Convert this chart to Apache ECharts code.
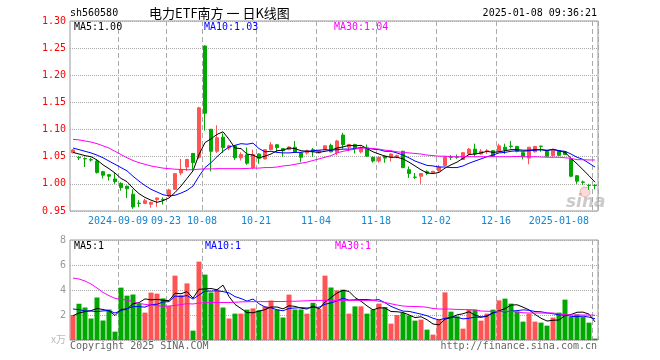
<!DOCTYPE html>
<html><head><meta charset="utf-8">
<script src="https://cdn.jsdelivr.net/npm/echarts@6/dist/echarts.min.js"></script>
<style>html,body{margin:0;padding:0;background:#fff;}#c{width:660px;height:360px;}</style>
</head><body><div id="c"></div>
<script>
const dates = [
'2024-08-28','2024-08-29','2024-08-30',
'2024-09-02','2024-09-03','2024-09-04','2024-09-05','2024-09-06',
'2024-09-09','2024-09-10','2024-09-11','2024-09-12','2024-09-13',
'2024-09-18','2024-09-19','2024-09-20',
'2024-09-23','2024-09-24','2024-09-25','2024-09-26','2024-09-27','2024-09-30',
'2024-10-08','2024-10-09','2024-10-10','2024-10-11',
'2024-10-14','2024-10-15','2024-10-16','2024-10-17','2024-10-18',
'2024-10-21','2024-10-22','2024-10-23','2024-10-24','2024-10-25',
'2024-10-28','2024-10-29','2024-10-30','2024-10-31','2024-11-01',
'2024-11-04','2024-11-05','2024-11-06','2024-11-07','2024-11-08',
'2024-11-11','2024-11-12','2024-11-13','2024-11-14','2024-11-15',
'2024-11-18','2024-11-19','2024-11-20','2024-11-21','2024-11-22',
'2024-11-25','2024-11-26','2024-11-27','2024-11-28','2024-11-29',
'2024-12-02','2024-12-03','2024-12-04','2024-12-05','2024-12-06',
'2024-12-09','2024-12-10','2024-12-11','2024-12-12','2024-12-13',
'2024-12-16','2024-12-17','2024-12-18','2024-12-19','2024-12-20',
'2024-12-23','2024-12-24','2024-12-25','2024-12-26','2024-12-27',
'2024-12-30','2024-12-31',
'2025-01-02','2025-01-03','2025-01-06','2025-01-07','2025-01-08'];

const opens = [
1.0575,1.049,1.0465,1.0445,1.042,1.0225,1.0169,1.009,1.0006,0.9956,
0.981,0.9645,0.964,0.9625,0.971,0.9715,0.9775,0.990,1.020,1.031,
1.056,1.049,1.254,1.1006,1.060,1.086,1.066,1.070,1.048,1.0536,
1.030,1.055,1.046,1.063,1.072,1.065,1.063,1.0676,1.057,1.057,
1.063,1.057,1.063,1.071,1.0575,1.090,1.0675,1.0725,1.059,1.065,
1.049,1.042,1.051,1.049,1.050,1.060,1.026,1.0125,1.014,1.0225,
1.021,1.024,1.034,1.0495,1.0495,1.045,1.055,1.064,1.055,1.0605,
1.061,1.060,1.0675,1.0695,1.069,1.0575,1.0475,1.059,1.0695,1.060,
1.052,1.061,1.059,1.046,1.015,1.0035,0.9975,0.9975];
const closes = [
1.0625,1.048,1.046,1.044,1.021,1.016,1.014,1.004,0.993,0.991,
0.9575,0.964,0.969,0.966,0.974,0.971,0.9888,1.0188,1.026,1.045,
1.039,1.140,1.130,1.060,1.085,1.067,1.070,1.048,1.054,1.038,
1.054,1.047,1.063,1.072,1.067,1.061,1.068,1.058,1.049,1.0615,
1.060,1.061,1.070,1.059,1.079,1.0725,1.0725,1.065,1.066,1.051,
1.042,1.049,1.0475,1.055,1.052,1.030,1.019,1.012,1.019,1.020,
1.023,1.031,1.050,1.049,1.049,1.0575,1.064,1.055,1.060,1.061,
1.051,1.070,1.0625,1.069,1.060,1.050,1.0675,1.069,1.069,1.051,
1.0615,1.0525,1.054,1.014,1.005,1.003,0.997,0.997];
const lows = [
1.056,1.044,1.031,1.041,1.019,1.010,1.006,1.000,0.9875,0.974,
0.954,0.957,0.9625,0.956,0.9575,0.962,0.976,0.989,1.016,1.024,
1.024,1.046,1.098,1.023,1.057,1.057,1.062,1.044,1.043,1.035,
1.027,1.037,1.045,1.062,1.058,1.050,1.062,1.057,1.040,1.054,
1.050,1.056,1.062,1.058,1.053,1.065,1.060,1.056,1.056,1.050,
1.039,1.039,1.039,1.041,1.047,1.029,1.011,1.009,1.000,1.016,
1.019,1.022,1.033,1.044,1.046,1.044,1.053,1.051,1.054,1.055,
1.050,1.059,1.055,1.065,1.058,1.045,1.036,1.058,1.059,1.050,
1.050,1.052,1.053,1.012,1.000,0.998,0.989,0.990];
const highs = [
1.064,1.051,1.049,1.048,1.045,1.024,1.018,1.020,1.003,0.997,
0.990,0.970,0.9725,0.967,0.975,0.975,0.991,1.020,1.046,1.046,
1.057,1.142,1.255,1.101,1.108,1.093,1.072,1.071,1.058,1.067,
1.063,1.056,1.064,1.077,1.073,1.066,1.069,1.079,1.058,1.063,
1.066,1.062,1.071,1.074,1.081,1.094,1.074,1.074,1.069,1.0725,
1.050,1.050,1.052,1.056,1.054,1.061,1.032,1.020,1.020,1.025,
1.024,1.035,1.051,1.053,1.054,1.058,1.066,1.074,1.064,1.064,
1.062,1.074,1.074,1.079,1.070,1.058,1.068,1.070,1.070,1.061,
1.064,1.062,1.060,1.048,1.016,1.006,1.000,0.999];

const volumes = [
2.0,2.9,2.6,1.72,3.4,1.56,2.44,0.67,4.19,3.55,
3.64,2.9,2.19,3.79,3.71,3.33,2.72,5.15,3.6,4.53,
0.75,6.27,5.23,3.8,4.04,2.6,1.72,2.11,2.11,2.43,
2.53,2.38,2.68,3.16,2.43,1.8,3.63,2.44,2.44,2.11,
2.98,2.5,5.15,4.2,3.97,4.03,2.11,2.69,2.69,2.11,
2.43,2.91,2.64,1.31,2.0,2.16,1.95,1.55,1.63,0.83,
0.43,1.63,3.81,2.27,1.89,0.91,2.43,2.43,1.55,2.11,
2.43,3.17,3.31,2.91,2.27,1.47,2.11,1.47,1.39,1.15,
1.79,2.19,3.23,1.84,2.05,1.84,1.39,0.11];

const ma5 = [
1.058,1.055,1.052,1.050,1.044,1.035,1.028,1.020,1.010,1.004,
0.992,0.982,0.975,0.970,0.966,0.969,0.974,0.984,0.996,1.010,
1.024,1.054,1.076,1.083,1.091,1.096,1.082,1.066,1.065,1.055,
1.053,1.048,1.051,1.055,1.061,1.062,1.066,1.065,1.061,1.060,
1.059,1.058,1.060,1.062,1.066,1.068,1.071,1.070,1.071,1.065,
1.059,1.055,1.051,1.049,1.049,1.046,1.040,1.033,1.026,1.020,
1.019,1.021,1.029,1.035,1.040,1.047,1.054,1.055,1.057,1.060,
1.058,1.059,1.061,1.063,1.063,1.062,1.062,1.063,1.063,1.061,
1.064,1.061,1.058,1.047,1.037,1.026,1.015,1.003];
const ma10 = [
1.066,1.063,1.060,1.057,1.053,1.048,1.042,1.036,1.030,1.024,
1.014,1.005,0.997,0.990,0.985,0.980,0.978,0.979,0.983,0.988,
0.996,1.014,1.030,1.039,1.050,1.060,1.068,1.071,1.074,1.073,
1.075,1.065,1.059,1.060,1.058,1.057,1.057,1.058,1.058,1.060,
1.061,1.062,1.063,1.062,1.063,1.064,1.064,1.065,1.067,1.066,
1.064,1.063,1.060,1.060,1.057,1.053,1.048,1.042,1.038,1.034,
1.033,1.031,1.031,1.030,1.030,1.033,1.038,1.042,1.046,1.050,
1.053,1.057,1.058,1.060,1.061,1.060,1.061,1.062,1.063,1.062,
1.063,1.061,1.060,1.055,1.049,1.045,1.038,1.031];
const ma30 = [
1.082,1.081,1.079,1.077,1.074,1.070,1.066,1.060,1.054,1.048,
1.043,1.039,1.036,1.033,1.031,1.029,1.028,1.027,1.0265,1.026,
1.026,1.027,1.0275,1.0275,1.028,1.028,1.028,1.028,1.028,1.0284,
1.029,1.029,1.030,1.030,1.031,1.033,1.034,1.036,1.038,1.040,
1.043,1.046,1.049,1.052,1.057,1.060,1.062,1.064,1.066,1.066,
1.065,1.064,1.062,1.061,1.059,1.058,1.057,1.056,1.055,1.053,
1.052,1.051,1.051,1.050,1.050,1.050,1.050,1.050,1.050,1.050,
1.050,1.050,1.050,1.050,1.0505,1.050,1.050,1.050,1.0495,1.049,
1.049,1.049,1.048,1.047,1.0445,1.0445,1.044,1.044];

const vma5 = [
1.95,2.16,2.27,2.35,2.52,2.44,2.34,1.96,2.45,2.48,
2.90,2.99,3.29,3.21,3.25,3.18,3.15,3.74,3.70,3.87,
3.35,4.06,4.08,4.12,4.02,4.39,3.48,2.85,2.52,2.19,
2.18,2.31,2.43,2.64,2.64,2.49,2.74,2.69,2.55,2.48,
2.72,2.49,3.04,3.39,3.76,3.97,3.89,3.40,3.10,2.73,
2.41,2.57,2.56,2.28,2.26,2.20,2.01,1.79,1.86,1.62,
1.28,1.21,1.67,1.79,2.01,2.10,2.26,1.99,1.84,1.89,
2.19,2.34,2.51,2.79,2.82,2.63,2.41,2.05,1.74,1.52,
1.58,1.60,1.95,2.04,2.22,2.23,2.07,1.45];
const vma10 = [
2.48,2.43,2.32,2.32,2.27,2.33,2.35,2.16,2.35,2.50,
2.67,2.67,2.63,2.83,2.86,3.04,3.07,3.52,3.46,3.56,
3.27,3.60,3.91,3.91,3.94,3.87,3.77,3.47,3.32,3.11,
3.28,2.90,2.64,2.58,2.42,2.34,2.53,2.56,2.59,2.56,
2.61,2.62,2.86,2.97,3.12,3.35,3.19,3.22,3.24,3.24,
3.19,3.23,2.98,2.69,2.49,2.31,2.29,2.18,2.07,1.94,
1.74,1.61,1.73,1.83,1.82,1.69,1.74,1.83,1.82,1.95,
2.15,2.30,2.25,2.31,2.35,2.41,2.38,2.28,2.26,2.17,
2.10,2.01,2.00,1.89,1.87,1.91,1.83,1.70];
const vma30 = [
4.96,4.88,4.72,4.48,4.16,3.81,3.55,3.33,3.25,3.20,
3.07,2.93,2.85,2.80,2.75,2.69,2.72,2.77,2.83,2.91,
2.88,2.96,2.98,3.00,3.00,3.00,3.00,3.02,3.05,3.06,
3.07,3.07,3.07,3.08,3.08,3.08,3.10,3.10,3.12,3.14,
3.16,3.17,3.17,3.17,3.17,3.17,3.17,3.17,3.17,3.17,
3.17,3.10,3.00,2.90,2.80,2.72,2.69,2.68,2.66,2.62,
2.52,2.48,2.48,2.47,2.45,2.43,2.43,2.40,2.32,2.30,
2.29,2.29,2.29,2.29,2.25,2.18,2.16,2.16,2.16,2.16,
2.16,2.10,2.03,2.00,2.00,2.00,2.00,1.98];

const tickDates = ['2024-09-09','2024-09-23','2024-10-08','2024-10-21','2024-11-04','2024-11-18','2024-12-02','2024-12-16','2025-01-08'];
const tickLabels = ['2024-09-09','09-23','10-08','10-21','11-04','11-18','12-02','12-16','2025-01-08'];

const UP = '#ff5454', DOWN = '#00a800';
const MONO = '"DejaVu Sans Mono", monospace';
const labelOf = {};
tickDates.forEach((d, n) => { labelOf[dates.indexOf(d)] = tickLabels[n]; });
const isTick = (i) => labelOf[i] !== undefined;

const ohlc = dates.map((d, i) => [opens[i], closes[i], lows[i], highs[i]]);
const volData = volumes.map((v, i) => ({ value: v, itemStyle: { color: closes[i] >= opens[i] ? UP : DOWN } }));

const vSplit = { show: true, interval: (i) => isTick(i), lineStyle: { color: '#aaa', type: [5, 3], width: 1 } };
const hSplit = { show: true, lineStyle: { color: '#aaa', type: [1, 1], width: 1 } };

function line(data, color, xi, yi) {
  return { type: 'line', data: data, xAxisIndex: xi, yAxisIndex: yi, symbol: 'none', showSymbol: false,
    lineStyle: { width: 1, color: color }, itemStyle: { color: color }, silent: true, z: 5 };
}
function txt(text, x, y, color, align, font) {
  return { type: 'text', silent: true, z: 10, style: { text: text, x: x, y: y, fill: color,
    align: align || 'left', verticalAlign: 'middle', font: font || ('10px ' + MONO) } };
}

const chart = echarts.init(document.getElementById('c'), null, { renderer: 'canvas' });
chart.setOption({
  animation: false,
  backgroundColor: '#fff',
  grid: [
    { left: 70, top: 21, width: 528, height: 190, show: true, borderColor: '#999', borderWidth: 1 },
    { left: 70, top: 240, width: 528, height: 100, show: true, borderColor: '#999', borderWidth: 1 }
  ],
  xAxis: [
    { type: 'category', gridIndex: 0, data: dates, boundaryGap: true,
      axisLine: { show: false }, axisTick: { show: false },
      axisLabel: { interval: (i) => isTick(i), formatter: (v, i) => labelOf[i] || '',
        color: '#1585d0', fontFamily: MONO, fontSize: 10, margin: 5, padding: [0, 6, 0, 0], alignMaxLabel: 'right' },
      splitLine: vSplit },
    { type: 'category', gridIndex: 1, data: dates, boundaryGap: true,
      axisLine: { show: false }, axisTick: { show: false }, axisLabel: { show: false },
      splitLine: vSplit }
  ],
  yAxis: [
    { type: 'value', gridIndex: 0, min: 0.95, max: 1.30, interval: 0.05, scale: true,
      axisLine: { show: false }, axisTick: { show: false },
      axisLabel: { color: '#ff0000', fontFamily: MONO, fontSize: 10, margin: 4, formatter: (v) => v.toFixed(2) },
      splitLine: hSplit },
    { type: 'value', gridIndex: 1, min: 0, max: 8, interval: 2,
      axisLine: { show: false }, axisTick: { show: false },
      axisLabel: { color: '#999', fontFamily: MONO, fontSize: 10, margin: 4, formatter: (v) => v === 0 ? '' : String(v) },
      splitLine: hSplit }
  ],
  series: [
    { type: 'candlestick', data: ohlc, xAxisIndex: 0, yAxisIndex: 0, barWidth: 4, silent: true,
      itemStyle: { color: UP, color0: DOWN, borderColor: UP, borderColor0: DOWN, borderWidth: 1 } },
    line(ma5, '#000000', 0, 0),
    line(ma10, '#0000ff', 0, 0),
    line(ma30, '#ff00ff', 0, 0),
    { type: 'bar', data: volData, xAxisIndex: 1, yAxisIndex: 1, barWidth: 5, silent: true },
    line(vma5, '#000000', 1, 1),
    line(vma10, '#0000ff', 1, 1),
    line(vma30, '#ff00ff', 1, 1)
  ],
  graphic: [
    txt('sh560580', 70, 13, '#000'),
    txt('电力ETF南方 一 日K线图', 149, 13, '#000', 'left', '13px "Noto Sans CJK SC"'),
    txt('2025-01-08 09:36:21', 597, 13, '#000', 'right'),
    txt('MA5:' + ma5[ma5.length - 1].toFixed(2), 74, 27, '#000'),
    txt('MA10:' + ma10[ma10.length - 1].toFixed(2), 204, 27, '#0000ff'),
    txt('MA30:' + ma30[ma30.length - 1].toFixed(2), 334, 27, '#ff00ff'),
    txt('MA5:1', 74, 246, '#000'),
    txt('MA10:1', 205, 246, '#0000ff'),
    txt('MA30:1', 335, 246, '#ff00ff'),
    txt('x万', 66, 339, '#bbb', 'right', '10px "Noto Sans CJK SC"'),
    txt('Copyright 2025 SINA.COM', 70, 346, '#666'),
    txt('http://finance.sina.com.cn', 597, 346, '#666', 'right'),
    { type: 'circle', silent: true, z: 1, shape: { cx: 585, cy: 192, r: 5 },
      style: { fill: 'rgba(240,150,150,0.35)', stroke: 'rgba(230,120,120,0.5)', lineWidth: 1 } },
    txt('sina', 566, 203, 'rgba(160,160,160,0.55)', 'left', 'italic bold 17px "DejaVu Sans"')
  ]
});
</script>
</body></html>
